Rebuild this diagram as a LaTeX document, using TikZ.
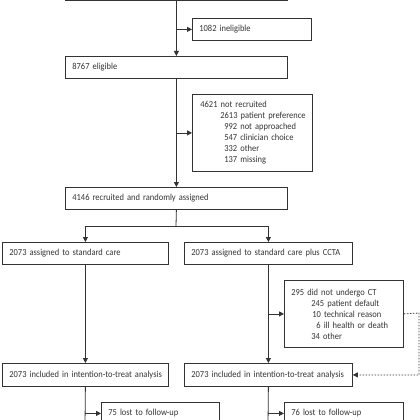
\documentclass[tikz,border=0pt]{standalone}
\usepackage{fontspec}
\setmainfont{Carlito}[FakeStretch=0.92]
\usetikzlibrary{arrows.meta}
\definecolor{flowgray}{HTML}{333333}
\tikzset{
  box/.style={draw=flowgray, line width=0.8pt, rectangle, anchor=north west, align=left,
    inner xsep=7pt, inner ysep=0pt, text=flowgray, font=\fontsize{9.2}{11}\selectfont},
  arr/.style={draw=flowgray, line width=0.8pt, -{Triangle[length=5pt,width=5pt]}},
  link/.style={draw=flowgray, line width=0.8pt},
}
\begin{document}
\begin{tikzpicture}[x=1pt,y=-1pt]
\useasboundingbox (0,0) rectangle (420,420);
\clip (0,0) rectangle (420,420);
\node[box, anchor=south west, text width=208pt, minimum height=22pt] (screened) at (65,1) {};
\node[box, text width=105pt, minimum height=22pt] (inelig) at (192,18) {1082 ineligible};
\node[box, text width=208pt, minimum height=22pt] (elig) at (65,56) {8767 eligible};
\node[box, text width=104pt, inner xsep=8pt, minimum height=77pt] (notrec) at (192,94)
  {4621 not recruited\\
   \hspace*{20pt}\mbox{2613 patient preference}\\
   \hspace*{24pt}992 not approached\\
   \hspace*{24pt}547 clinician choice\\
   \hspace*{24pt}332 other\\
   \hspace*{24pt}137 missing};
\node[box, text width=208pt, minimum height=22pt] (rand) at (65,187) {4146 recruited and randomly assigned};
\node[box, text width=152pt, minimum height=22pt] (std) at (2,242) {2073 assigned to standard care};
\node[box, text width=154pt, minimum height=22pt] (ccta) at (184,242) {\mbox{2073 assigned to standard care plus CCTA}};
\node[box, text width=105pt, minimum height=67pt] (notct) at (284,280)
  {295 did not undergo CT\\
   \hspace*{20pt}245 patient default\\
   \hspace*{21pt}10 technical reason\\
   \hspace*{25pt}\mbox{6 ill health or death}\\
   \hspace*{20pt}34 other};
\node[box, text width=152pt, minimum height=23pt] (ittstd) at (2,363) {\mbox{2073 included in intention-to-treat analysis}};
\node[box, text width=154pt, minimum height=23pt] (ittccta) at (184,363) {\mbox{2073 included in intention-to-treat analysis}};
\node[box, text width=104pt, minimum height=22pt] (loststd) at (101,402) {75 lost to follow-up};
\node[box, text width=105pt, minimum height=22pt] (lostccta) at (284,402) {76 lost to follow-up};

\coordinate (split) at (176,226);
\coordinate (loop) at (419,313);
\coordinate (endstd) at (85,425);
\coordinate (endccta) at (268,425);

\path[arr] (screened.south) -- (elig.north);
\path[arr] (screened.south |- inelig.west) -- (inelig.west);
\path[arr] (elig.south) -- (rand.north);
\path[arr] (elig.south |- notrec.west) -- (notrec.west);
\path[link] (rand.south) -- (split);
\path[arr] (split) -| (std.north);
\path[arr] (split) -| (ccta.north);
\path[arr] (std.south) -- (ittstd.north);
\path[arr] (ccta.south) -- (ittccta.north);
\path[arr] (ccta.south |- notct.west) -- (notct.west);
\path[arr, dash pattern=on 1.5pt off 1.5pt] (notct.east) -- (loop) |- (ittccta.east);
\path[link] (ittstd.south) -- (endstd);
\path[link] (ittccta.south) -- (endccta);
\path[arr] (ittstd.south |- loststd.west) -- (loststd.west);
\path[arr] (ittccta.south |- lostccta.west) -- (lostccta.west);
\end{tikzpicture}
\end{document}
